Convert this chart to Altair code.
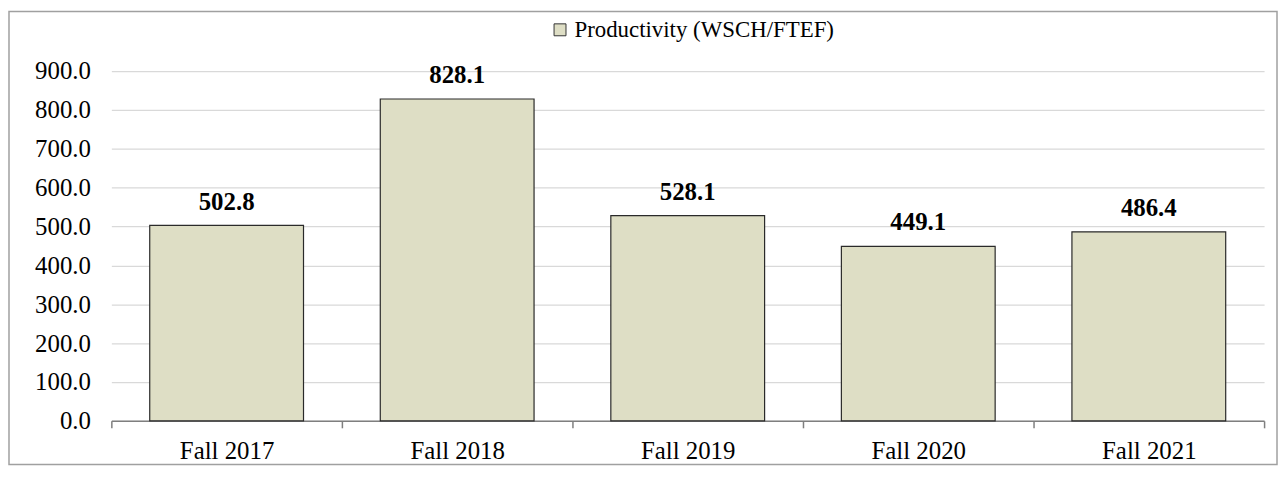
import altair as alt
import pandas as pd

terms = ["Fall 2017", "Fall 2018", "Fall 2019", "Fall 2020", "Fall 2021"]
productivity = [502.8, 828.1, 528.1, 449.1, 486.4]
series_name = "Productivity (WSCH/FTEF)"
y_ticks = [0, 100, 200, 300, 400, 500, 600, 700, 800, 900]

df = pd.DataFrame({"term": terms, "value": productivity, "series": [series_name] * len(terms)})

FONT = "Liberation Serif"
W, H = 1160, 352
PAD_L, PAD_T, PAD_R, PAD_B = 104, 62, 14, 46

x_enc = alt.X("term:N", sort=terms, title=None,
              scale=alt.Scale(paddingInner=0, paddingOuter=0),
              axis=alt.Axis(labelAngle=0, tickBand="extent", tickSize=7, labelPadding=11,
                            domainColor="#7f7f7f", domainWidth=1.5, tickColor="#7f7f7f",
                            tickWidth=1.5, grid=False, labelFont=FONT, labelFontSize=25,
                            labelColor="#000"))
y_enc = alt.Y("value:Q", title=None,
              scale=alt.Scale(domain=[0, 900], nice=False),
              axis=alt.Axis(values=y_ticks, format=".1f", domain=False, ticks=False,
                            labelPadding=21, grid=True, gridColor="#d9d9d9", gridWidth=1.2,
                            labelOverlap=False, labelFont=FONT, labelFontSize=25,
                            labelColor="#000"))

bars = alt.Chart(df).mark_bar(width=alt.RelativeBandSize(0.667), stroke="#2a2a2a",
                              strokeWidth=1.2).encode(
    x=x_enc, y=y_enc,
    color=alt.Color("series:N", scale=alt.Scale(range=["#dedec5"]),
                    legend=alt.Legend(title=None, orient="none", legendX=440, legendY=-53,
                                      symbolType="square", symbolSize=144,
                                      symbolStrokeColor="#333", symbolStrokeWidth=1,
                                      labelFont=FONT, labelFontSize=23, labelColor="#000",
                                      labelOffset=3, padding=0, labelLimit=500)),
)

labels = alt.Chart(df).mark_text(dy=-16, baseline="alphabetic", fontWeight="bold",
                                 fontSize=25, font=FONT, color="#000").encode(
    x=x_enc, y=y_enc, text=alt.Text("value:Q", format=".1f"))

border = alt.Chart(pd.DataFrame({"a": [0]})).mark_rect(
    filled=False, stroke="#a0a0a0", strokeWidth=1.5).encode(
    x=alt.value(-PAD_L + 1), x2=alt.value(W + PAD_R - 1),
    y=alt.value(-PAD_T + 2), y2=alt.value(H + PAD_B - 2))

chart = alt.layer(border, bars, labels).properties(
    width=W, height=H,
    autosize=alt.AutoSizeParams(type="none"),
    padding={"left": PAD_L, "top": PAD_T, "right": PAD_R, "bottom": PAD_B},
).configure_view(stroke=None).configure_axis(
    labelFont=FONT, labelFontSize=25, labelColor="#000"
)

chart.save("out.html", embed_options={"renderer": "svg", "actions": False})
